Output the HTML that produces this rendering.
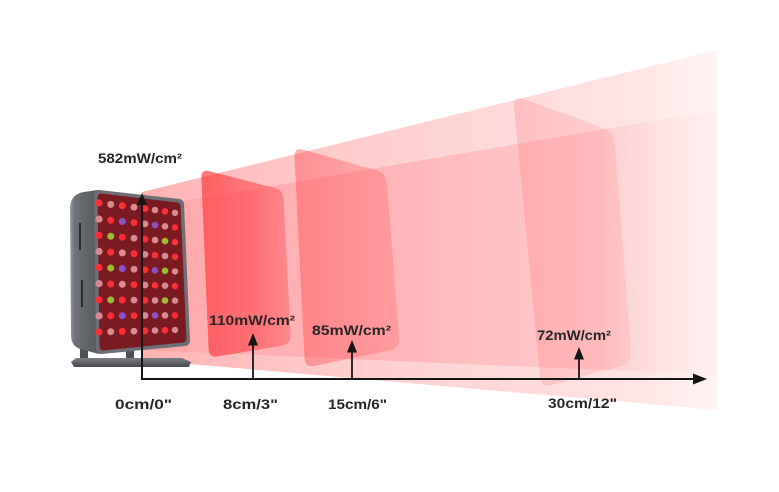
<!DOCTYPE html>
<html>
<head>
<meta charset="utf-8">
<style>
  html, body { margin:0; padding:0; background:#ffffff; }
  svg { display:block; }
  .t { font-family:"Liberation Sans", Arial, sans-serif; font-weight:700; font-size:13.5px; fill:#262626; }
</style>
</head>
<body>
<svg width="779" height="492" viewBox="0 0 779 492" xmlns="http://www.w3.org/2000/svg">
  <defs>
    <linearGradient id="outerG" gradientUnits="userSpaceOnUse" x1="142" y1="0" x2="717" y2="0">
      <stop offset="0" stop-color="#ffb2b2"/>
      <stop offset="0.3" stop-color="#ffc9c9"/>
      <stop offset="0.6" stop-color="#ffd8d8"/>
      <stop offset="0.85" stop-color="#ffe4e4"/>
      <stop offset="1" stop-color="#fff2f2"/>
    </linearGradient>
    <linearGradient id="innerG" gradientUnits="userSpaceOnUse" x1="142" y1="0" x2="717" y2="0">
      <stop offset="0" stop-color="#ffa0a0"/>
      <stop offset="0.1" stop-color="#ffacae"/>
      <stop offset="0.45" stop-color="#ffb6b8"/>
      <stop offset="0.66" stop-color="#ffc3c4"/>
      <stop offset="0.8" stop-color="#ffcdce"/>
      <stop offset="0.88" stop-color="#ffdedf"/>
      <stop offset="1" stop-color="#fff0f0"/>
    </linearGradient>
    <linearGradient id="p1" x1="0" y1="0" x2="1" y2="0">
      <stop offset="0" stop-color="#ff373c" stop-opacity="0.68"/>
      <stop offset="0.65" stop-color="#ff373c" stop-opacity="0.5"/>
      <stop offset="1" stop-color="#ff373c" stop-opacity="0.33"/>
    </linearGradient>
    <linearGradient id="p2" x1="0" y1="0" x2="1" y2="0">
      <stop offset="0" stop-color="#ff373c" stop-opacity="0.38"/>
      <stop offset="1" stop-color="#ff373c" stop-opacity="0.2"/>
    </linearGradient>
    <linearGradient id="p3" x1="0" y1="0" x2="1" y2="0">
      <stop offset="0" stop-color="#ff373c" stop-opacity="0.17"/>
      <stop offset="1" stop-color="#ff373c" stop-opacity="0.1"/>
    </linearGradient>
    <linearGradient id="side" x1="0" y1="0" x2="1" y2="0">
      <stop offset="0" stop-color="#9a9ea3"/>
      <stop offset="0.15" stop-color="#6f7378"/>
      <stop offset="1" stop-color="#55595e"/>
    </linearGradient>
    <linearGradient id="base" x1="0" y1="0" x2="0" y2="1">
      <stop offset="0" stop-color="#7c8085"/>
      <stop offset="1" stop-color="#45484c"/>
    </linearGradient>
  </defs>

  <!-- Beam -->
  <polygon points="142,192 717,50 717,410 190,364 142,360" fill="url(#outerG)"/>
  <polygon points="142,208 717,110 717,375 190,352 142,350" fill="url(#innerG)"/>

  <!-- Panels -->
  <path d="M209.7,171.2 L274.3,187.8 Q283,190 283.5,199.0 L290.5,335.0 Q291,344 282.1,345.5 L217.9,356.5 Q209,358 208.6,349.0 L201.4,178.0 Q201,169 209.7,171.2 Z" fill="url(#p1)"/>
  <path d="M303.6,149.7 L376.4,170.3 Q386,173 386.8,183.0 L399.2,338.0 Q400,348 390.2,350.1 L314.8,365.9 Q305,368 304.5,358.0 L294.5,157.0 Q294,147 303.6,149.7 Z" fill="url(#p2)"/>
  <path d="M524.3,99.1 L602.7,127.9 Q614,132 614.9,144.0 L631.1,351.0 Q632,363 620.4,366.2 L552.6,384.8 Q541,388 539.9,376.0 L514.1,107.0 Q513,95 524.3,99.1 Z" fill="url(#p3)"/>

  <!-- Device -->
  <rect x="80" y="346" width="8" height="14" fill="#4d5055"/>
  <rect x="126" y="346" width="8" height="14" fill="#4d5055"/>
  <polygon points="76,358 182,358 191,362 189,367 74,367 71,362" fill="url(#base)"/>
  <path d="M98,190 L84,192 Q71,194 70,207 L71,337 Q72,348 84,350 L99,354 Z" fill="url(#side)"/>
  <rect x="79" y="223" width="2" height="27" fill="#2a2c30"/>
  <rect x="81" y="280" width="2" height="27" fill="#2a2c30"/>
  <polygon points="99,195 179,204 185,341 101,349" fill="#6c7075" stroke="#6c7075" stroke-width="10" stroke-linejoin="round"/>
  <polygon points="101,197 177,206 183,339 103,347" fill="#7a1b21" stroke="#7a1b21" stroke-width="7" stroke-linejoin="round"/>

  <!-- LEDs -->
  <g>
    <circle cx="99" cy="203" r="3.6" fill="#ff2d35"/>
    <circle cx="99" cy="219.1" r="3.6" fill="#d98a90"/>
    <circle cx="99" cy="235.3" r="3.6" fill="#ff2d35"/>
    <circle cx="99" cy="251.4" r="3.6" fill="#d98a90"/>
    <circle cx="99" cy="267.5" r="3.6" fill="#ff2d35"/>
    <circle cx="99" cy="283.6" r="3.6" fill="#d98a90"/>
    <circle cx="99" cy="299.8" r="3.6" fill="#ff2d35"/>
    <circle cx="99" cy="315.9" r="3.6" fill="#d98a90"/>
    <circle cx="99" cy="332" r="3.6" fill="#ff2d35"/>

    <circle cx="110.7" cy="204.4" r="3.5" fill="#d98a90"/>
    <circle cx="110.7" cy="220.3" r="3.5" fill="#ff2d35"/>
    <circle cx="110.7" cy="236.2" r="3.5" fill="#9cbc3a"/>
    <circle cx="110.7" cy="252.1" r="3.5" fill="#ff2d35"/>
    <circle cx="110.7" cy="268.0" r="3.5" fill="#9cbc3a"/>
    <circle cx="110.7" cy="284.0" r="3.5" fill="#ff2d35"/>
    <circle cx="110.7" cy="299.9" r="3.5" fill="#9cbc3a"/>
    <circle cx="110.7" cy="315.8" r="3.5" fill="#ff2d35"/>
    <circle cx="110.7" cy="331.7" r="3.5" fill="#d98a90"/>

    <circle cx="122.3" cy="205.8" r="3.5" fill="#ff2d35"/>
    <circle cx="122.3" cy="221.5" r="3.5" fill="#8b4fc8"/>
    <circle cx="122.3" cy="237.2" r="3.5" fill="#ff2d35"/>
    <circle cx="122.3" cy="252.9" r="3.5" fill="#d98a90"/>
    <circle cx="122.3" cy="268.6" r="3.5" fill="#8b4fc8"/>
    <circle cx="122.3" cy="284.3" r="3.5" fill="#d98a90"/>
    <circle cx="122.3" cy="300.0" r="3.5" fill="#ff2d35"/>
    <circle cx="122.3" cy="315.7" r="3.5" fill="#8b4fc8"/>
    <circle cx="122.3" cy="331.4" r="3.5" fill="#ff2d35"/>

    <circle cx="134" cy="207.2" r="3.4" fill="#d98a90"/>
    <circle cx="134" cy="222.7" r="3.4" fill="#ff2d35"/>
    <circle cx="134" cy="238.2" r="3.4" fill="#d98a90"/>
    <circle cx="134" cy="253.7" r="3.4" fill="#ff2d35"/>
    <circle cx="134" cy="269.2" r="3.4" fill="#d98a90"/>
    <circle cx="134" cy="284.6" r="3.4" fill="#ff2d35"/>
    <circle cx="134" cy="300.1" r="3.4" fill="#d98a90"/>
    <circle cx="134" cy="315.6" r="3.4" fill="#ff2d35"/>
    <circle cx="134" cy="331.1" r="3.4" fill="#d98a90"/>

    <circle cx="145" cy="208.6" r="3.4" fill="#ff2d35"/>
    <circle cx="145" cy="223.9" r="3.4" fill="#d98a90"/>
    <circle cx="145" cy="239.2" r="3.4" fill="#ff2d35"/>
    <circle cx="145" cy="254.4" r="3.4" fill="#d98a90"/>
    <circle cx="145" cy="269.7" r="3.4" fill="#ff2d35"/>
    <circle cx="145" cy="285.0" r="3.4" fill="#d98a90"/>
    <circle cx="145" cy="300.3" r="3.4" fill="#ff2d35"/>
    <circle cx="145" cy="315.5" r="3.4" fill="#d98a90"/>
    <circle cx="145" cy="330.8" r="3.4" fill="#ff2d35"/>

    <circle cx="155" cy="210" r="3.3" fill="#d98a90"/>
    <circle cx="155" cy="225.1" r="3.3" fill="#8b4fc8"/>
    <circle cx="155" cy="240.1" r="3.3" fill="#d98a90"/>
    <circle cx="155" cy="255.2" r="3.3" fill="#ff2d35"/>
    <circle cx="155" cy="270.3" r="3.3" fill="#8b4fc8"/>
    <circle cx="155" cy="285.3" r="3.3" fill="#ff2d35"/>
    <circle cx="155" cy="300.4" r="3.3" fill="#d98a90"/>
    <circle cx="155" cy="315.4" r="3.3" fill="#8b4fc8"/>
    <circle cx="155" cy="330.5" r="3.3" fill="#d98a90"/>

    <circle cx="165" cy="211.4" r="3.3" fill="#ff2d35"/>
    <circle cx="165" cy="226.3" r="3.3" fill="#d98a90"/>
    <circle cx="165" cy="241.1" r="3.3" fill="#9cbc3a"/>
    <circle cx="165" cy="256.0" r="3.3" fill="#d98a90"/>
    <circle cx="165" cy="270.8" r="3.3" fill="#9cbc3a"/>
    <circle cx="165" cy="285.7" r="3.3" fill="#d98a90"/>
    <circle cx="165" cy="300.5" r="3.3" fill="#9cbc3a"/>
    <circle cx="165" cy="315.4" r="3.3" fill="#d98a90"/>
    <circle cx="165" cy="330.2" r="3.3" fill="#ff2d35"/>

    <circle cx="175" cy="212.8" r="3.2" fill="#d98a90"/>
    <circle cx="175" cy="227.4" r="3.2" fill="#ff2d35"/>
    <circle cx="175" cy="242.1" r="3.2" fill="#ff2d35"/>
    <circle cx="175" cy="256.7" r="3.2" fill="#ff2d35"/>
    <circle cx="175" cy="271.4" r="3.2" fill="#d98a90"/>
    <circle cx="175" cy="286.0" r="3.2" fill="#ff2d35"/>
    <circle cx="175" cy="300.6" r="3.2" fill="#d98a90"/>
    <circle cx="175" cy="315.3" r="3.2" fill="#ff2d35"/>
    <circle cx="175" cy="329.9" r="3.2" fill="#d98a90"/>
  </g>

  <!-- Axes -->
  <g stroke="#151515" stroke-width="2" fill="none">
    <line x1="141" y1="379" x2="696" y2="379"/>
    <line x1="142" y1="380" x2="142" y2="203"/>
  </g>
  <polygon points="693,373.5 707,379 693,384.5" fill="#151515"/>
  <polygon points="137,205 142,193 147,205" fill="#151515"/>

  <g stroke="#151515" stroke-width="1.8">
    <line x1="253" y1="379" x2="253" y2="344"/>
    <line x1="352" y1="379" x2="352" y2="351"/>
    <line x1="579" y1="379" x2="579" y2="358"/>
  </g>
  <polygon points="248,345.5 253,333 258,345.5" fill="#151515"/>
  <polygon points="347,352.5 352,340 357,352.5" fill="#151515"/>
  <polygon points="574,359.5 579,347 584,359.5" fill="#151515"/>

  <!-- Labels -->
  <text class="t" x="98" y="163" textLength="84" lengthAdjust="spacingAndGlyphs">582mW/cm²</text>
  <text class="t" x="209" y="325" textLength="86" lengthAdjust="spacingAndGlyphs">110mW/cm²</text>
  <text class="t" x="312" y="335" textLength="79" lengthAdjust="spacingAndGlyphs">85mW/cm²</text>
  <text class="t" x="537" y="340" textLength="74" lengthAdjust="spacingAndGlyphs">72mW/cm²</text>

  <text class="t" x="115" y="409" textLength="57" lengthAdjust="spacingAndGlyphs">0cm/0"</text>
  <text class="t" x="223" y="409" textLength="55" lengthAdjust="spacingAndGlyphs">8cm/3"</text>
  <text class="t" x="328" y="409" textLength="59" lengthAdjust="spacingAndGlyphs">15cm/6"</text>
  <text class="t" x="548" y="408" textLength="69" lengthAdjust="spacingAndGlyphs">30cm/12"</text>
</svg>
</body>
</html>
